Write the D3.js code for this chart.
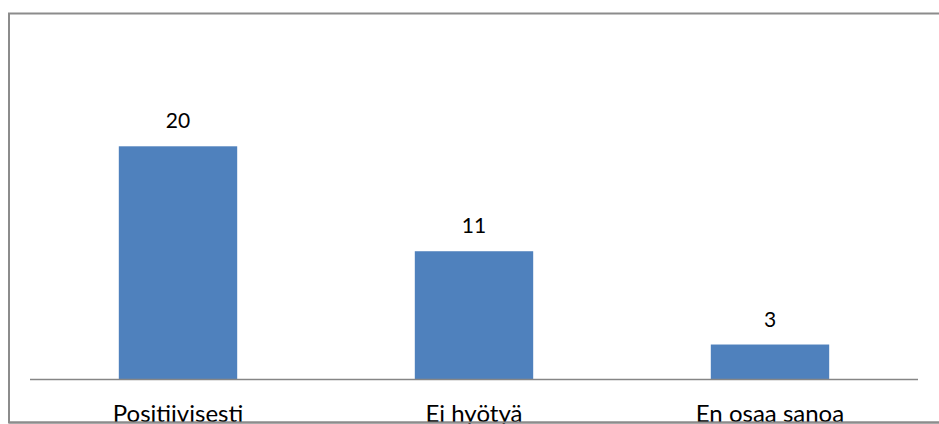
<!DOCTYPE html>
<html>
<head>
<meta charset="utf-8">
<script src="https://cdn.jsdelivr.net/npm/d3@7"></script>
<style>
  body { margin: 0; background: #fff; }
  svg { display: block; }
</style>
</head>
<body>
<div id="chart"></div>
<script>
// data
var categories = ["Positiivisesti", "Ei hyötyä", "En osaa sanoa"];
var values = [20, 11, 3];

var width = 939,
    height = 424;

// plot area
var plot = {left: 30, right: 918, top: 88, bottom: 379.5};

var svg = d3.select("#chart")
    .append("svg")
    .attr("width", width)
    .attr("height", height);

var x = d3.scaleBand()
    .domain(categories)
    .range([plot.left, plot.right])
    .paddingInner(0.6)
    .paddingOuter(0.3);

var y = d3.scaleLinear()
    .domain([0, 25])
    .range([plot.bottom, plot.top]);

// outer frame (right side falls off the picture)
svg.append("path")
    .attr("d", "M939,13.5 H9 V422.5 H939")
    .attr("fill", "none")
    .attr("stroke", "#8c8c8c")
    .attr("stroke-width", 2);

// bars
svg.append("g")
    .selectAll("rect")
    .data(values)
    .enter().append("rect")
    .attr("x", function(d, i) { return x(categories[i]); })
    .attr("y", function(d) { return y(d); })
    .attr("width", x.bandwidth())
    .attr("height", function(d) { return y(0) - y(d); })
    .attr("fill", "#4f81bd");

// value labels
svg.append("g")
    .selectAll("text")
    .data(values)
    .enter().append("text")
    .attr("x", function(d, i) { return x(categories[i]) + x.bandwidth() / 2; })
    .attr("y", function(d) { return y(d) - 18; })
    .attr("text-anchor", "middle")
    .attr("font-family", "Lato, 'Noto Sans', sans-serif")
    .attr("font-size", 21)
    .attr("fill", "#000")
    .text(function(d) { return d; });

// x axis
var xAxis = svg.append("g")
    .attr("transform", "translate(0," + plot.bottom + ")")
    .call(d3.axisBottom(x).tickSize(0).tickPadding(0));

xAxis.select(".domain")
    .attr("d", "M" + plot.left + ",0H" + plot.right)
    .attr("stroke", "#868686")
    .attr("stroke-width", 1.5);

xAxis.selectAll(".tick text")
    .attr("dy", 0)
    .attr("y", 42)
    .attr("font-family", "Lato, 'Noto Sans', sans-serif")
    .attr("font-size", 24)
    .attr("fill", "#000");

// keep the frame's bottom line over the clipped labels
svg.append("path")
    .attr("d", "M9,422.5 H939")
    .attr("stroke", "#8c8c8c")
    .attr("stroke-width", 2);
</script>
</body>
</html>
